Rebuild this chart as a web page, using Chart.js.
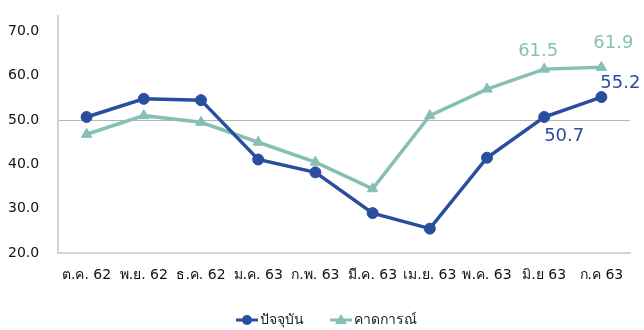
<!DOCTYPE html>
<html>
<head>
<meta charset="utf-8">
<script src="https://cdn.jsdelivr.net/npm/chart.js@4.4.0/dist/chart.umd.min.js"></script>
<style>
  html, body { margin: 0; padding: 0; background: #fff; }
</style>
</head>
<body>
<canvas id="chart" width="644" height="330"></canvas>
<script>
  var months = ["ต.ค. 62", "พ.ย. 62", "ธ.ค. 62", "ม.ค. 63", "ก.พ. 63", "มี.ค. 63", "เม.ย. 63", "พ.ค. 63", "มิ.ย 63", "ก.ค 63"];
  var current  = [50.7, 54.8, 54.5, 41.1, 38.2, 29.0, 25.5, 41.5, 50.7, 55.2];
  var forecast = [46.8, 51.0, 49.5, 45.0, 40.5, 34.5, 51.0, 57.0, 61.5, 61.9];
  var yTicks = [20, 30, 40, 50, 60, 70];
  var seriesNames = ["ปัจจุบัน", "คาดการณ์"];

  var blue = '#2A4E9E';
  var teal = '#86BFB6';
  var font = 'Verdana, "DejaVu Sans", Tahoma, sans-serif';

  // value labels drawn next to a few points, as in the original
  var valueLabels = [
    { ds: 1, i: 8, dx: -6, dy: -18, color: teal },
    { ds: 1, i: 9, dx: 12, dy: -24, color: teal },
    { ds: 0, i: 9, dx: 19, dy: -14, color: blue },
    { ds: 0, i: 8, dx: 20, dy: 19, color: blue }
  ];

  var labelPlugin = {
    id: 'labelPlugin',
    afterDatasetsDraw: function(chart) {
      var ctx = chart.ctx;
      ctx.save();
      ctx.font = '18px ' + font;
      ctx.textAlign = 'center';
      ctx.textBaseline = 'middle';
      valueLabels.forEach(function(l) {
        var pt = chart.getDatasetMeta(l.ds).data[l.i];
        var v = chart.data.datasets[l.ds].data[l.i];
        ctx.fillStyle = l.color;
        ctx.fillText(v.toFixed(1), pt.x + l.dx, pt.y + l.dy);
      });

      // legend
      ctx.font = '14px ' + font;
      ctx.textAlign = 'left';
      var y = 320;
      var x = 236;
      ctx.lineWidth = 3;
      ctx.strokeStyle = blue;
      ctx.beginPath(); ctx.moveTo(x, y); ctx.lineTo(x + 22, y); ctx.stroke();
      ctx.fillStyle = blue;
      ctx.beginPath(); ctx.arc(x + 11, y, 5, 0, Math.PI * 2); ctx.fill();
      ctx.fillStyle = '#222';
      ctx.fillText(seriesNames[0], x + 24, y);
      x = 330;
      ctx.strokeStyle = teal;
      ctx.beginPath(); ctx.moveTo(x, y); ctx.lineTo(x + 22, y); ctx.stroke();
      ctx.fillStyle = teal;
      ctx.beginPath(); ctx.moveTo(x + 11, y - 6); ctx.lineTo(x + 17, y + 4); ctx.lineTo(x + 5, y + 4); ctx.closePath(); ctx.fill();
      ctx.fillStyle = '#222';
      ctx.fillText(seriesNames[1], x + 24, y);
      ctx.restore();
    }
  };

  var ctx = document.getElementById('chart').getContext('2d');
  var chart = new Chart(ctx, {
    type: 'line',
    data: {
      labels: months,
      datasets: [{
        label: seriesNames[0],
        data: current,
        borderColor: blue,
        backgroundColor: blue,
        borderWidth: 3.5,
        pointStyle: 'circle',
        pointRadius: 5.5,
        pointBorderWidth: 1,
        pointHoverRadius: 5.5,
        tension: 0
      }, {
        label: seriesNames[1],
        data: forecast,
        borderColor: teal,
        backgroundColor: teal,
        borderWidth: 3.5,
        pointStyle: 'triangle',
        pointRadius: 6,
        pointBorderWidth: 1,
        pointHoverRadius: 6,
        tension: 0
      }]
    },
    options: {
      responsive: false,
      animation: false,
      layout: { padding: { top: 5, right: 14, left: 8, bottom: 0 } },
      plugins: {
        legend: { display: false },
        tooltip: { enabled: false }
      },
      scales: {
        x: {
          offset: true,
          grid: { display: false, drawTicks: false },
          border: { color: '#d4d4d4', width: 2 },
          ticks: { color: '#111', font: { size: 14, family: font }, padding: 14, maxRotation: 0, autoSkip: false },
          afterFit: function(scale) { scale.height = 77; }
        },
        y: {
          min: 20,
          max: 73.4,
          afterBuildTicks: function(scale) {
            scale.ticks = yTicks.map(function(v) { return { value: v }; });
          },
          grid: {
            drawTicks: false,
            color: function(c) { return c.tick && c.tick.value === 50 ? '#b4b4b4' : 'rgba(0,0,0,0)'; },
            lineWidth: 1
          },
          border: { color: '#d4d4d4', width: 2 },
          ticks: {
            color: '#111',
            font: { size: 14, family: font },
            padding: 8,
            crossAlign: 'far',
            callback: function(v) { return v.toFixed(1); }
          },
          afterFit: function(scale) { scale.width = 50; }
        }
      }
    },
    plugins: [labelPlugin]
  });
</script>
</body>
</html>
